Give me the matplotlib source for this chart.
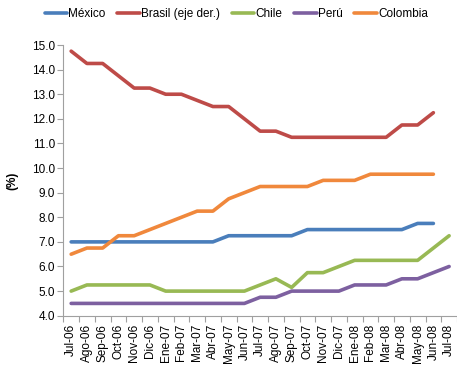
import numpy as np
import matplotlib
matplotlib.use('Agg')
import matplotlib.pyplot as plt

meses = ['Jul-06', 'Ago-06', 'Sep-06', 'Oct-06', 'Nov-06', 'Dic-06', 'Ene-07', 'Feb-07',
         'Mar-07', 'Abr-07', 'May-07', 'Jun-07', 'Jul-07', 'Ago-07', 'Sep-07', 'Oct-07',
         'Nov-07', 'Dic-07', 'Ene-08', 'Feb-08', 'Mar-08', 'Abr-08', 'May-08', 'Jun-08', 'Jul-08']

mexico = [7.0, 7.0, 7.0, 7.0, 7.0, 7.0, 7.0, 7.0, 7.0, 7.0, 7.25, 7.25, 7.25, 7.25, 7.25,
          7.5, 7.5, 7.5, 7.5, 7.5, 7.5, 7.5, 7.75, 7.75]
brasil = [14.75, 14.25, 14.25, 13.75, 13.25, 13.25, 13.0, 13.0, 12.75, 12.5, 12.5, 12.0,
          11.5, 11.5, 11.25, 11.25, 11.25, 11.25, 11.25, 11.25, 11.25, 11.75, 11.75, 12.25]
chile = [5.0, 5.25, 5.25, 5.25, 5.25, 5.25, 5.0, 5.0, 5.0, 5.0, 5.0, 5.0, 5.25, 5.5, 5.15,
         5.75, 5.75, 6.0, 6.25, 6.25, 6.25, 6.25, 6.25, 6.75, 7.25]
peru = [4.5, 4.5, 4.5, 4.5, 4.5, 4.5, 4.5, 4.5, 4.5, 4.5, 4.5, 4.5, 4.75, 4.75, 5.0, 5.0,
        5.0, 5.0, 5.25, 5.25, 5.25, 5.5, 5.5, 5.75, 6.0]
colombia = [6.5, 6.75, 6.75, 7.25, 7.25, 7.5, 7.75, 8.0, 8.25, 8.25, 8.75, 9.0, 9.25, 9.25,
            9.25, 9.25, 9.5, 9.5, 9.5, 9.75, 9.75, 9.75, 9.75, 9.75]

series = [('México', mexico, '#4A7EBB'),
          ('Brasil (eje der.)', brasil, '#BE4B48'),
          ('Chile', chile, '#98B954'),
          ('Perú', peru, '#7D60A0'),
          ('Colombia', colombia, '#F0883C')]

plt.rcParams['font.family'] = ['Liberation Sans Narrow', 'Liberation Sans']
fig = plt.figure(figsize=(4.57, 3.72), dpi=100)
ax = fig.add_axes([0.1385, 0.1513, 0.8615, 0.7277])

for name, vals, col in series:
    ax.plot(np.arange(len(vals)), vals, color=col, lw=2.6, label=name,
            solid_capstyle='round', solid_joinstyle='round')

ax.set_xlim(-0.5, len(meses) - 0.5)
ax.set_ylim(4.0, 15.0)
ax.set_yticks(np.arange(4, 15.5, 1.0))
ax.set_yticklabels(['%.1f' % v for v in np.arange(4, 15.5, 1.0)], fontsize=8.5)
ax.set_xticks(np.arange(len(meses)))
ax.set_xticklabels(meses, rotation=90, fontsize=8.5)
ax.set_xticks(np.arange(len(meses) + 1) - 0.5, minor=True)
ax.tick_params(axis='x', which='major', length=0, pad=6)
ax.tick_params(axis='x', which='minor', length=4, color='#A0A0A0', width=0.8)
ax.tick_params(axis='y', length=4, color='#A0A0A0', width=0.8, pad=2)

for s in ['top', 'right']:
    ax.spines[s].set_visible(False)
for s in ['left', 'bottom']:
    ax.spines[s].set_color('#A0A0A0')
    ax.spines[s].set_linewidth(0.8)

ax.set_ylabel('(%)', fontsize=8.5, fontweight='bold', labelpad=10)

fig.legend(loc='upper center', bbox_to_anchor=(0.517, 1.0), ncol=5, frameon=False,
           fontsize=8.5, handlelength=1.9, handletextpad=0.1, columnspacing=1.0,
           borderaxespad=0.3)

fig.savefig('out.png', dpi=100)
